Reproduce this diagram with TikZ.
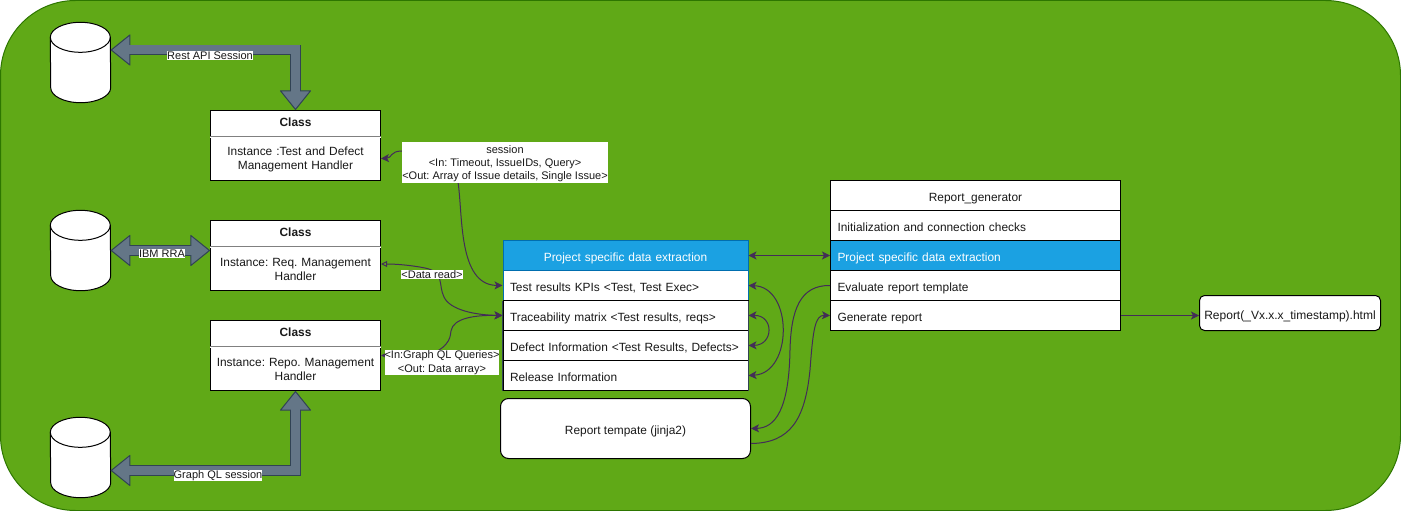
\documentclass[tikz,border=0pt]{standalone}
\usepackage{fontspec}
\setmainfont{Liberation Sans}
\frenchspacing
\usetikzlibrary{calc, positioning}
\usetikzlibrary{arrows.meta}

\definecolor{leaf}{HTML}{60A917}
\definecolor{leafline}{HTML}{2D7600}
\definecolor{slate}{HTML}{647687}
\definecolor{slateline}{HTML}{314354}
\definecolor{sky}{HTML}{1BA1E2}
\definecolor{skyline}{HTML}{006EAF}
\definecolor{plum}{HTML}{432D57}

\tikzset{
  every node/.style={font=\fontsize{11.9}{14}\selectfont, text=black!90},
  store/.style={minimum width=60pt, minimum height=80pt, inner sep=0pt},
  storeline/.style={draw=black, fill=white, line width=1pt},
  classhead/.style={draw=black, fill=white, line width=1pt, minimum width=170pt, minimum height=26pt,
    inner sep=0pt, font=\fontsize{11.9}{14}\selectfont\bfseries, text depth=2.5pt},
  classbody/.style={draw=black, fill=white, line width=1pt, minimum width=170pt, minimum height=44pt,
    inner sep=0pt, text width=168pt, align=center, execute at begin node=\rule{0pt}{11pt}},
  parting/.style={draw=black!50, line width=0.7pt, double=white, double distance=0.8pt},
  rowbox/.style={draw=black, fill=white, line width=1pt, minimum width=245pt, minimum height=30pt,
    inner ysep=0pt, inner xsep=7pt, text width=231pt, align=left, text height=12pt, text depth=0pt},
  genrow/.style={rowbox, minimum width=290pt, text width=276pt},
  bluerow/.style={draw=skyline, fill=sky, text=white},
  softbox/.style={draw=black, fill=white, line width=1pt, rounded corners=8pt, inner sep=0pt, align=center,
    text height=12pt, text depth=0pt},
  fat/.style={draw=slateline, line width=1pt, double=slate, double distance=8.5pt},
  fatcore/.style={draw=slate, line width=9pt, shorten >=16pt, shorten <=16pt},
  flow/.style={draw=plum, line width=1pt},
  tag/.style={fill=white, inner xsep=0pt, inner ysep=0.6pt, font=\fontsize{11}{13}\selectfont, align=center},
}
\def\tipb{Triangle[length=20pt,width=32pt,fill=slate,line width=1pt,round=false]}
\def\tipf{Stealth[length=8pt,width=8pt,inset=2pt]}
\def\tipo{Triangle[open,length=6pt,width=6pt]}
\newcommand{\drumshape}[1]{
  \draw[storeline] ($(#1.north west)+(0,15)$) arc[start angle=180, end angle=0, x radius=30pt, y radius=15pt]
    -- ($(#1.south east)+(0,-15)$) arc[start angle=0, end angle=-180, x radius=30pt, y radius=15pt] -- cycle;
  \draw[storeline, fill=none] ($(#1.north west)+(0,15)$) arc[start angle=180, end angle=360, x radius=30pt, y radius=15pt];
}

\begin{document}
\begin{tikzpicture}[x=1pt,y=-1pt]
\useasboundingbox (0,0) rectangle (1401,511);
\draw[fill=leaf, draw=leafline, line width=1pt, rounded corners=75pt] (0.5,0.5) rectangle (1400.5,510.5);

% stores
\node[store] (restdb) at (80.5,62.5) {};
\node[store] (rradb) at (80.5,250.5) {};
\node[store] (gqldb) at (80.5,457.5) {};
\drumshape{restdb}
\drumshape{rradb}
\drumshape{gqldb}

% handlers
\node[classhead] (testhead) at (295.5,123.5) {Class};
\node[classbody] (testbody) at (295.5,158.5) {Instance :Test and Defect\\Management Handler};
\node[classhead] (reqhead) at (295.5,233.5) {Class};
\node[classbody] (reqbody) at (295.5,268.5) {Instance: Req. Management\\Handler};
\node[classhead] (repohead) at (295.5,333.5) {Class};
\node[classbody] (repobody) at (295.5,368.5) {Instance: Repo. Management\\Handler};
\draw[parting] (testhead.south west) -- (testhead.south east);
\draw[parting] (reqhead.south west) -- (reqhead.south east);
\draw[parting] (repohead.south west) -- (repohead.south east);

% extraction table
\node[rowbox, bluerow] (extract) at (625.5,255.5) {\hfill Project specific data extraction\hfill\null};
\node[rowbox, draw=skyline] (kpi) at (625.5,285.5) {Test results KPIs <Test, Test Exec>};
\node[rowbox] (trace) at (625.5,315.5) {Traceability matrix <Test results, reqs>};
\node[rowbox] (defect) at (625.5,345.5) {Defect Information <Test Results, Defects>};
\node[rowbox] (release) at (625.5,375.5) {Release Information};
\draw[slateline, line width=1pt] (kpi.south west) -- (release.south west);
\draw[slateline, line width=1pt] (kpi.south east) -- (release.south east);
\node[softbox, minimum width=250pt, minimum height=60pt] (tmpl) at (625.5,428.5) {Report tempate (jinja2)};

% generator table
\node[genrow] (gentitle) at (975.5,195.5) {\hfill Report\_generator\hfill\null};
\node[genrow] (geninit) at (975.5,225.5) {Initialization and connection checks};
\node[genrow, bluerow, draw=black] (gendata) at (975.5,255.5) {Project specific data extraction};
\node[genrow] (geneval) at (975.5,285.5) {Evaluate report template};
\node[genrow] (genrep) at (975.5,315.5) {Generate report};
\node[softbox, rounded corners=5pt, minimum width=181pt, minimum height=35pt, font=\fontsize{12}{14}\selectfont] (html) at (1290,313) {Report(\_Vx.x.x\_timestamp).html};

% session connectors
\draw[fat, {\tipb}-{\tipb}] (restdb.east |- 0,50) -| (testhead.north);
\draw[fatcore] (restdb.east |- 0,50) -| (testhead.north);
\draw[fat, {\tipb}-{\tipb}] (rradb.east) -- (reqhead.west |- rradb.east);
\draw[fatcore] (rradb.east) -- (reqhead.west |- rradb.east);
\draw[fat, {\tipb}-{\tipb}] (gqldb.east |- 0,470.5) -| (repobody.south);
\draw[fatcore] (gqldb.east |- 0,470.5) -| (repobody.south);

% data flow
\draw[flow, {\tipf}-{\tipf}] (testbody.east) .. controls (392,158) and (390,151) .. (402,151)
  -- (458,182) .. controls (463,215) and (458,285) .. (kpi.west);
\draw[flow, {\tipo}-{\tipf}] (reqbody.east |- 0,264) .. controls (395,264) and (410,265) .. (425,268)
  .. controls (445,272) and (438,285) .. (444,297) .. controls (450,310) and (475,315) .. (trace.west);
\draw[flow, {\tipf}-{\tipf}] ($(repobody.east)+(0,-13)$) -- (430,355) .. controls (452,345) and (450,335) .. (451,331)
  .. controls (453,318) and (475,315) .. (trace.west);
\draw[flow, {\tipf}-{\tipf}] (extract.east) -- (gendata.west);
\draw[flow, {\tipf}-{\tipf}] (kpi.east) .. controls (793,287) and (793,373) .. (release.east);
\draw[flow, {\tipf}-{\tipf}] (trace.east) .. controls (774,315) and (774,345) .. (defect.east);
\draw[flow, -{\tipf}] (geneval.west) .. controls (800,285) and (791,310) .. (790,350)
  .. controls (789,410) and (775,428) .. (tmpl.east);
\draw[flow, -{\tipf}] ($(tmpl.east)+(0,15)$) .. controls (790,443) and (805,420) .. (810,370)
  .. controls (813,330) and (815,315) .. (genrep.west);
\draw[flow, -{\tipf}] (genrep.east) -- (genrep.east -| html.west);

% labels
\node[tag] (restlbl) at (210,55.5) {Rest API Session};
\node[tag] (rralbl) at (162,253.5) {IBM RRA};
\node[tag] (gqllbl) at (218,475.5) {Graph QL session};
\node[tag] (sesslbl) at (505,162.5) {\rule{0pt}{11pt}session\\<In: Timeout, IssueIDs, Query>\\<Out: Array of Issue details, Single Issue>};
\node[tag] (readlbl) at (432,274.5) {<Data read>};
\node[tag] (querylbl) at (442,362.5) {<In:Graph QL Queries>\\[1pt]<Out: Data array>};
\end{tikzpicture}
\end{document}
